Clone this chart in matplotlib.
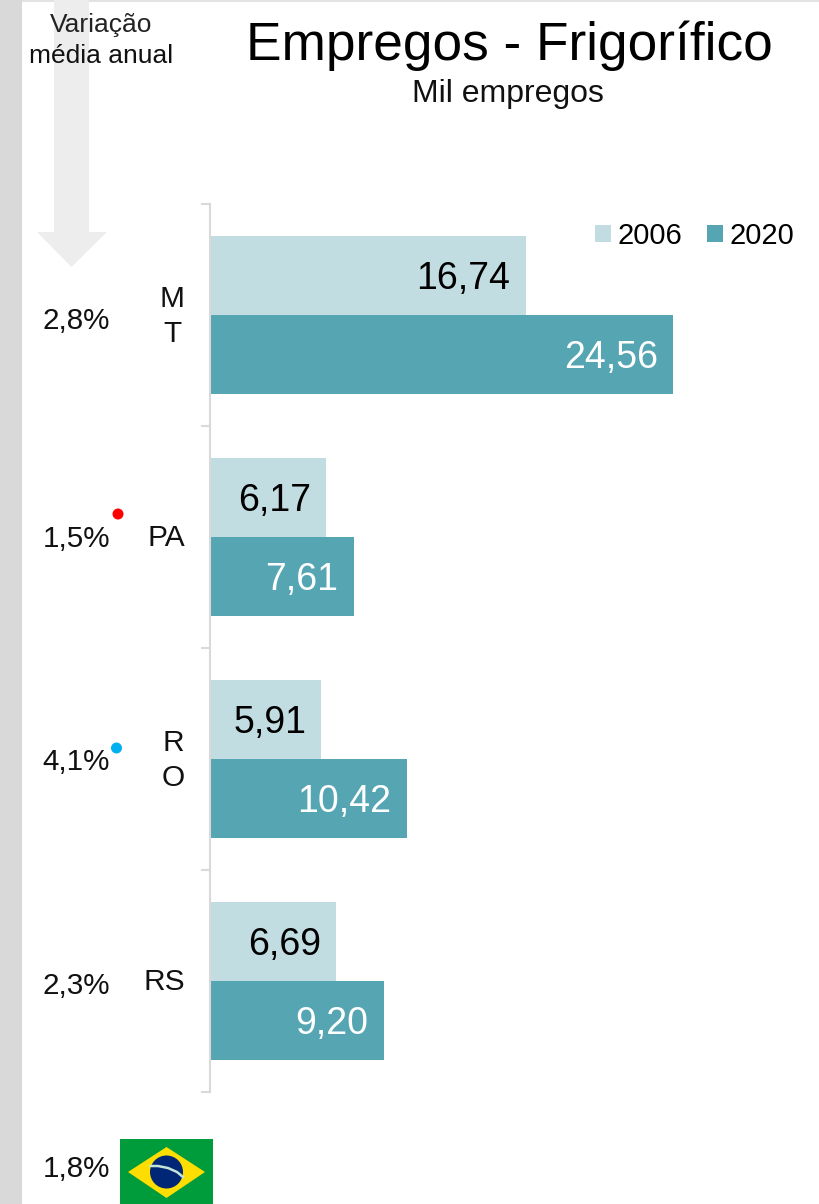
import matplotlib
matplotlib.use("Agg")
import matplotlib.pyplot as plt
from matplotlib.patches import Rectangle, Polygon, Circle
from matplotlib.transforms import ScaledTranslation

plt.rcParams['font.family'] = ['Liberation Sans', 'DejaVu Sans']

W, H = 820, 1204

# data
estados = ["M\nT", "PA", "R\nO", "RS"]
v2006 = [16.74, 6.17, 5.91, 6.69]
v2020 = [24.56, 7.61, 10.42, 9.20]
variacao = ["2,8%", "1,5%", "4,1%", "2,3%", "1,8%"]
var_y = [321, 539, 762, 986, 1169]

C2006 = "#c1dde1"
C2020 = "#55a5b3"
GRID = "#d9d9d9"

fig = plt.figure(figsize=(W / 100, H / 100), dpi=100, facecolor="white")

# background layer in pixels
bg = fig.add_axes([0, 0, 1, 1])
bg.set_xlim(0, W)
bg.set_ylim(H, 0)
bg.axis("off")
bg.add_patch(Rectangle((0, 0), 22, H, color="#d9d9d9", lw=0))
bg.add_patch(Rectangle((22, 0), W - 22, 2, color="#e3e3e3", lw=0))

# big arrow behind the text
bg.add_patch(Polygon([(54, 0), (89, 0), (89, 232), (107, 232), (71.5, 267), (37, 232), (54, 232)],
                     color="#ededed", lw=0))

bg.text(101, 25, "Variação", ha="center", va="center", fontsize=19, color="#222222")
bg.text(101, 56, "média anual", ha="center", va="center", fontsize=19, color="#111111")
bg.text(509, 46, "Empregos - Frigorífico", ha="center", va="center", fontsize=38.3, color="black")
bg.text(508, 94, "Mil empregos", ha="center", va="center", fontsize=23, color="#111111")

for txt, y in zip(variacao, var_y):
    bg.text(110, y, txt, ha="right", va="center", fontsize=21.3, color="#111111")

# the two dots
bg.add_patch(Circle((118, 514), 5.5, color="#ff0000", lw=0))
bg.add_patch(Circle((116.5, 748), 5.5, color="#00b0f0", lw=0))

# flag
bg.add_patch(Rectangle((120, 1139), 93, 65, color="#009b3a", lw=0))
bg.add_patch(Polygon([(128, 1172), (166.5, 1147), (205, 1172), (166.5, 1198)], color="#fedd00", lw=0))
bg.add_patch(Circle((166.5, 1172), 16.5, color="#002776", lw=0))
bg.plot([150.5, 158, 168, 177, 183], [1166, 1166, 1168, 1172, 1177], color="#c4e4d8", lw=1.8)

# bars
ax = fig.add_axes([210 / W, 1 - 1091.7 / H, (W - 210) / W, 888 / H])
ax.patch.set_alpha(0)
pos = list(range(len(estados)))
alt = 79 / 222
b1 = ax.barh([p - alt / 2 for p in pos], v2006, height=alt, color=C2006, label="2006")
b2 = ax.barh([p + alt / 2 for p in pos], v2020, height=alt, color=C2020, label="2020")
ax.set_xlim(0, (W - 210) / 18.86)
ax.set_ylim(3.5, -0.5)

for s in ["top", "right", "bottom"]:
    ax.spines[s].set_visible(False)
ax.spines["left"].set_color(GRID)
ax.spines["left"].set_linewidth(1.5)
ax.xaxis.set_visible(False)

ax.set_yticks([p - 0.5 for p in pos] + [3.5])
ax.set_yticklabels([])
ax.tick_params(axis="y", which="major", length=6.5, width=1.5, color=GRID)
ax.set_yticks(pos, minor=True)
ax.set_yticklabels(estados, minor=True, fontsize=21.5, color="#111111", multialignment="center",
                   linespacing=1.3)
ax.tick_params(axis="y", which="minor", length=0, pad=18)
for t, nome in zip(ax.get_yticklabels(minor=True), estados):
    # labels that wrapped sit a bit higher
    sobe = 4.5 if "\n" in nome else 1.5
    t.set_transform(t.get_transform() + ScaledTranslation(0, sobe / 100, fig.dpi_scale_trans))

for bars, vals, cor in [(b1, v2006, "black"), (b2, v2020, "white")]:
    for r, v in zip(bars, vals):
        ax.annotate(f"{v:.2f}".replace(".", ","), (v, r.get_y() + r.get_height() / 2),
                    xytext=(-11, -2.5), textcoords="offset points",
                    ha="right", va="center", fontsize=27, color=cor)

ax.legend(loc="upper right", bbox_to_anchor=(1.0, 1 + 7.5 / 888), ncol=2, frameon=False,
          fontsize=21, handlelength=0.52, handleheight=0.52, handletextpad=0.25,
          columnspacing=0.85, borderpad=0.2, borderaxespad=0.67)

fig.savefig("out.png", dpi=100)
